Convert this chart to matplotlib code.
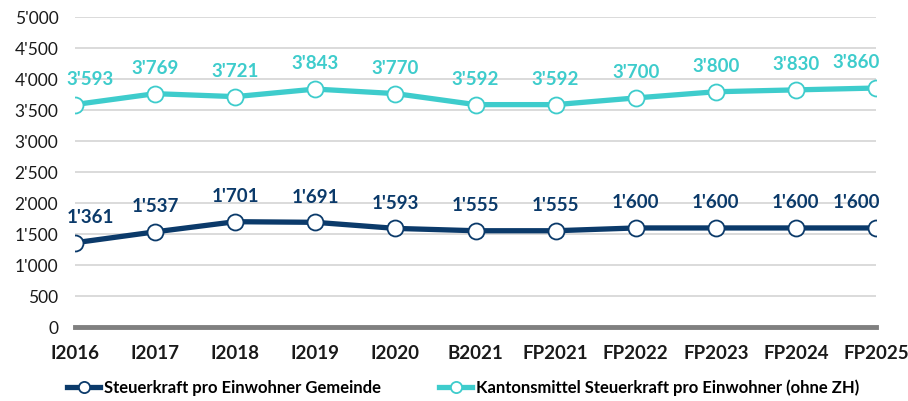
import matplotlib.pyplot as plt
from matplotlib.ticker import FuncFormatter

plt.rcParams['font.family'] = ['Lato', 'DejaVu Sans']

jahre = ["I2016", "I2017", "I2018", "I2019", "I2020", "B2021", "FP2021",
         "FP2022", "FP2023", "FP2024", "FP2025"]
gemeinde = [1361, 1537, 1701, 1691, 1593, 1555, 1555, 1600, 1600, 1600, 1600]
kanton = [3593, 3769, 3721, 3843, 3770, 3592, 3592, 3700, 3800, 3830, 3860]

navy = "#0b3a6a"
teal = "#3ecccc"


def fmt(v):
    return f"{int(v):,}".replace(",", "'")


fig = plt.figure(figsize=(9.08, 4.01), dpi=100)
ax = fig.add_axes([0.0826, 0.1845, 0.8822, 0.772])

x = range(len(jahre))
ax.plot(x, gemeinde, color=navy, lw=3.8, marker="o", ms=11.5,
        mfc="white", mec=navy, mew=1.3, zorder=3,
        label="Steuerkraft pro Einwohner Gemeinde")
ax.plot(x, kanton, color=teal, lw=3.8, marker="o", ms=11.5,
        mfc="white", mec=teal, mew=1.3, zorder=3,
        label="Kantonsmittel Steuerkraft pro Einwohner (ohne ZH)")

# labels above points; first/last pushed inside the plot area like Excel does
n = len(jahre)
for serie, col in [(gemeinde, navy), (kanton, teal)]:
    for xi, v in zip(x, serie):
        if xi == 0:
            ha, dx = "left", -6
        elif xi == n - 1:
            ha, dx = "right", 3
        else:
            ha, dx = "center", 0
        ax.annotate(fmt(v), (xi, v), xytext=(dx, 12), textcoords="offset points",
                    ha=ha, va="bottom", fontsize=13.5, fontweight="bold", color=col)

ax.set_xlim(0, n - 1)
ax.set_ylim(0, 5000)
ax.set_yticks(range(0, 5001, 500))
ax.yaxis.set_major_formatter(FuncFormatter(lambda v, p: fmt(v)))
ax.set_xticks(list(x))
ax.set_xticklabels(jahre, fontweight="bold")
ax.tick_params(axis="y", length=0, pad=12, labelsize=12.5, labelcolor="#1a1a1a")
ax.tick_params(axis="x", length=0, pad=13, labelsize=13.5, labelcolor="#1a1a1a")
ax.grid(axis="y", color="#d4d4d4", lw=1.2)
ax.set_axisbelow(True)
for s in ["top", "right", "left"]:
    ax.spines[s].set_visible(False)
ax.spines["bottom"].set_color("#808080")
ax.spines["bottom"].set_linewidth(3.5)
ax.spines["bottom"].set_zorder(4)
for lbl in ax.get_xticklabels():
    lbl.set_clip_on(False)

leg = fig.legend(loc="lower center", bbox_to_anchor=(0.51, -0.025), ncol=2,
                 frameon=False, handlelength=2.0, columnspacing=3.5,
                 handletextpad=0.2, markerscale=0.7,
                 prop={"weight": "bold", "size": 12})

fig.savefig("out.png", dpi=100)
